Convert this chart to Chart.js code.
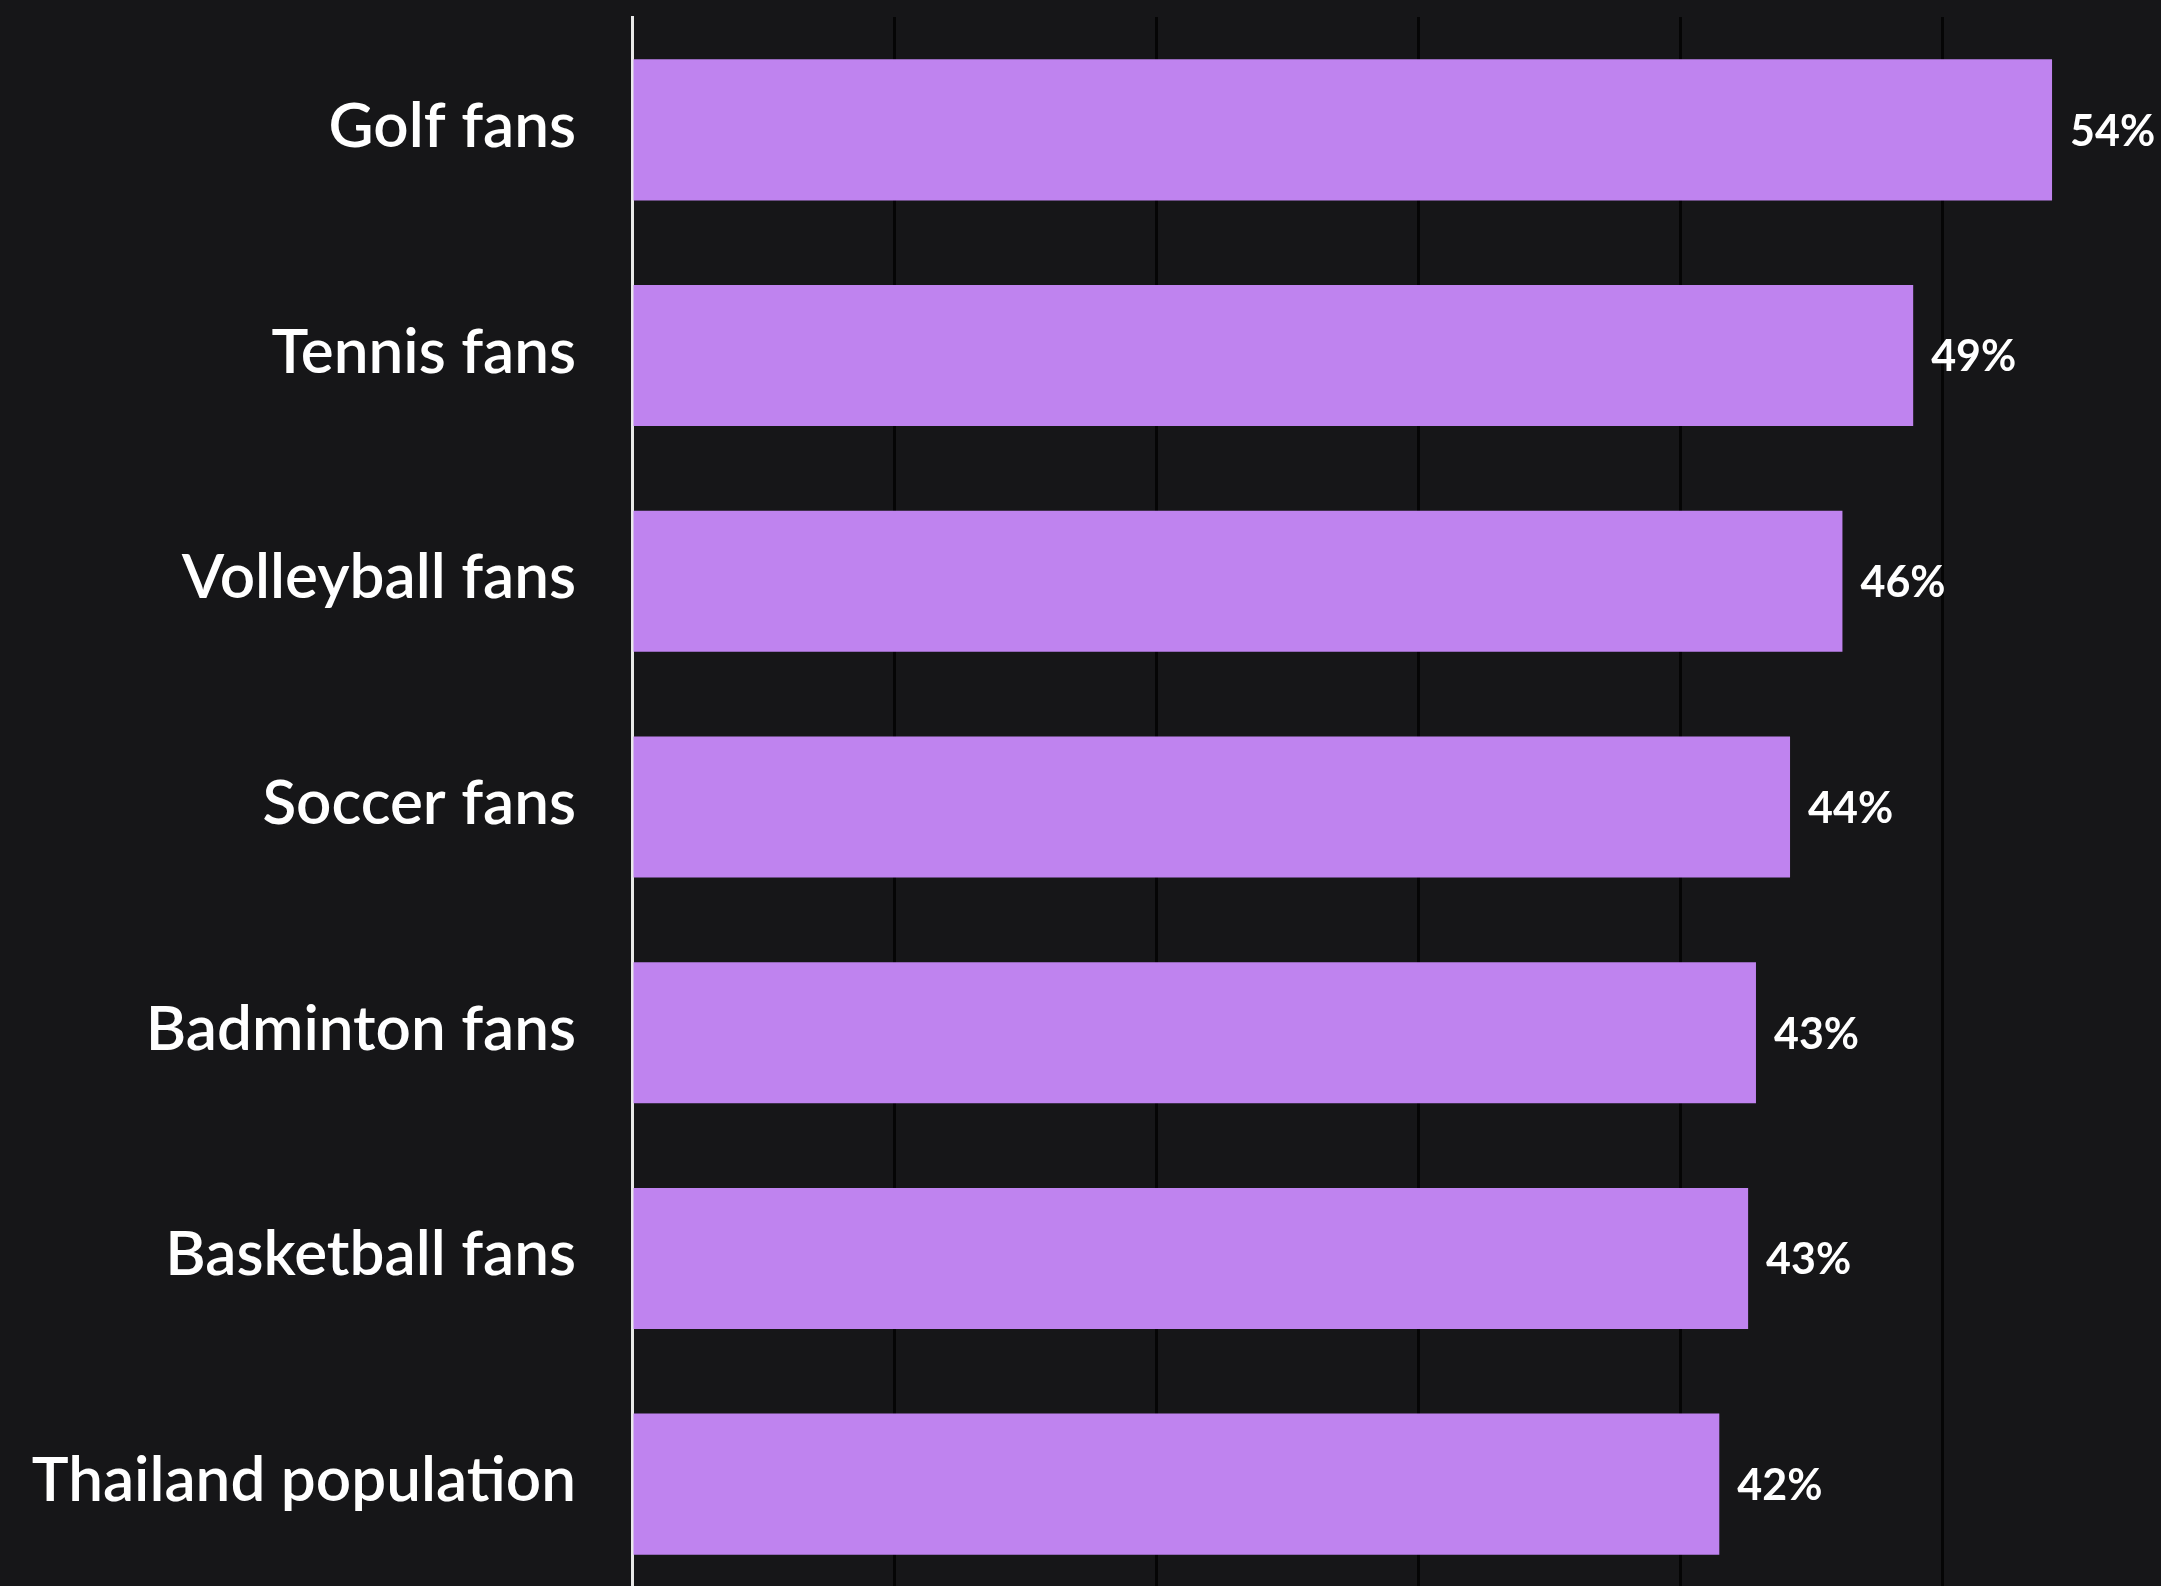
<!DOCTYPE html>
<html>
<head>
<meta charset="utf-8">
<script src="https://cdn.jsdelivr.net/npm/chart.js@4/dist/chart.umd.min.js"></script>
<style>
  html, body { margin: 0; padding: 0; background: #161618; overflow: hidden; }
  #wrap { position: absolute; left: 0; top: 0; width: 2204px; height: 1597px; }
</style>
</head>
<body>
<div id="wrap"><canvas id="chart"></canvas></div>
<script>
// Share of each audience, in percent
const categories = [
  'Golf fans',
  'Tennis fans',
  'Volleyball fans',
  'Soccer fans',
  'Badminton fans',
  'Basketball fans',
  'Thailand population'
];
const shares = [54.2, 48.9, 46.2, 44.2, 42.9, 42.6, 41.5];

const BAR = '#bf83ef';
const BG = '#161618';

// Percent labels to the right of each bar
const valueLabels = {
  id: 'valueLabels',
  afterDatasetsDraw(chart) {
    const ctx = chart.ctx;
    const meta = chart.getDatasetMeta(0);
    ctx.save();
    ctx.fillStyle = '#ffffff';
    ctx.font = '700 43px Lato, "Noto Sans", sans-serif';
    ctx.textAlign = 'left';
    ctx.textBaseline = 'middle';
    meta.data.forEach((bar, i) => {
      const v = chart.data.datasets[0].data[i];
      ctx.fillText(Math.round(v) + '%', bar.x + 18, bar.y + 2);
    });
    ctx.restore();
  }
};

const bgFill = {
  id: 'bgFill',
  beforeDraw(chart) {
    const ctx = chart.ctx;
    ctx.save();
    ctx.fillStyle = BG;
    ctx.fillRect(0, 0, chart.width, chart.height);
    ctx.restore();
  }
};

new Chart(document.getElementById('chart'), {
  type: 'bar',
  data: {
    labels: categories,
    datasets: [{
      data: shares,
      backgroundColor: BAR,
      borderWidth: 0,
      categoryPercentage: 1,
      barPercentage: 0.625
    }]
  },
  options: {
    indexAxis: 'y',
    responsive: true,
    maintainAspectRatio: false,
    animation: false,
    layout: { padding: { top: 17, right: 0, bottom: 0, left: 0 } },
    plugins: {
      legend: { display: false },
      tooltip: { enabled: false }
    },
    scales: {
      x: {
        min: 0,
        max: 60,
        ticks: { display: false, stepSize: 10 },
        grid: { color: '#050505', lineWidth: 3, drawTicks: false },
        border: { display: false }
      },
      y: {
        grid: { display: false, drawTicks: false },
        border: { display: true, color: '#e8e8e8', width: 3 },
        ticks: {
          color: '#ffffff',
          padding: 56,
          labelOffset: -3,
          font: { family: 'Lato, "Noto Sans", sans-serif', size: 62, weight: 600 }
        },
        afterFit(scale) {
          scale.width = 632;
          scale.paddingTop = 0;
          scale.paddingBottom = 0;
        }
      }
    }
  },
  plugins: [bgFill, valueLabels]
});
</script>
</body>
</html>
